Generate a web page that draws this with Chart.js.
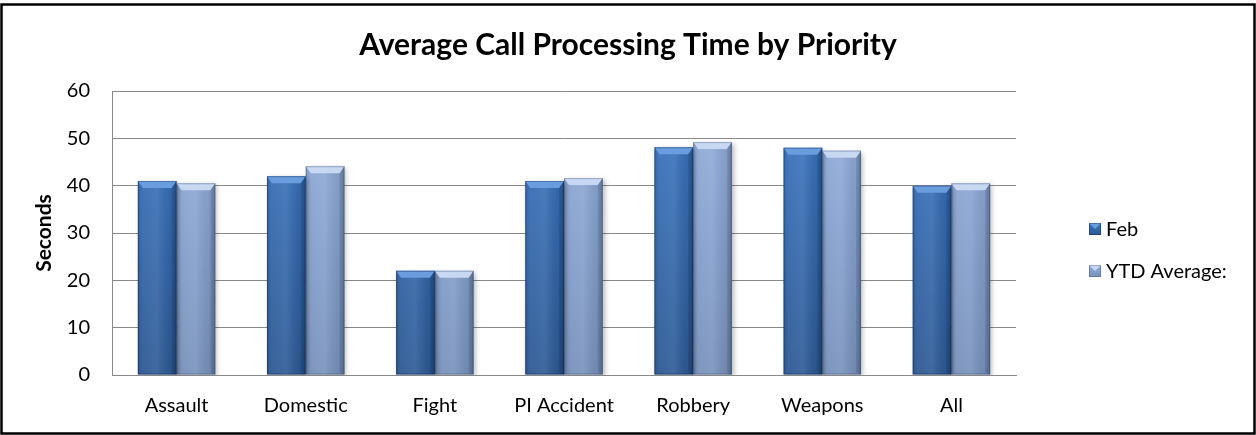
<!DOCTYPE html>
<html>
<head>
<meta charset="utf-8">
<script src="https://cdn.jsdelivr.net/npm/chart.js@4.4.1/dist/chart.umd.min.js"></script>
<style>
  html, body { margin: 0; padding: 0; background: #ffffff; }
  #wrap { width: 1256px; height: 435px; position: relative; }
</style>
</head>
<body>
<div id="wrap"><canvas id="c" width="1256" height="435"></canvas></div>
<script>
// ---- data ----
const categories = ['Assault', 'Domestic', 'Fight', 'PI Accident', 'Robbery', 'Weapons', 'All'];
const febValues = [41, 42, 22, 41, 48.1, 48, 40];
const ytdValues = [40.5, 44.1, 22, 41.6, 49.2, 47.4, 40.5];
const seriesLabels = ['Feb', 'YTD Average:'];
const yTickMin = 0;
const yTickMax = 60;
const yTickStep = 10;
const chartTitle = 'Average Call Processing Time by Priority';
const yAxisTitle = 'Seconds';

// ---- styles ----
const FONT = "Lato, 'Open Sans', sans-serif";
const styles = [
  { top: '#3a76c4', bottom: '#2b5893', bevel: '#6a9ddd', edgeDark: 'rgba(10,30,70,0.35)' },
  { top: '#93afdd', bottom: '#7690ba', bevel: '#c8d8f2', edgeDark: 'rgba(40,60,100,0.30)' }
];

function vGrad(idx) {
  return function (ctx) {
    const chart = ctx.chart;
    const ca = chart.chartArea;
    if (!ca) return styles[idx].top;
    const g = chart.ctx.createLinearGradient(0, ca.top, 0, ca.bottom);
    g.addColorStop(0, styles[idx].top);
    g.addColorStop(1, styles[idx].bottom);
    return g;
  };
}

const bevelPlugin = {
  id: 'bevel',
  beforeDatasetsDraw(chart) {
    const ctx = chart.ctx;
    ctx.save();
    ctx.shadowColor = 'rgba(0,0,0,0.28)';
    ctx.shadowBlur = 5;
    ctx.shadowOffsetX = 2;
    ctx.shadowOffsetY = 2;
  },
  afterDatasetsDraw(chart) {
    const ctx = chart.ctx;
    ctx.restore();
    chart.data.datasets.forEach((ds, di) => {
      const meta = chart.getDatasetMeta(di);
      const st = styles[di];
      meta.data.forEach((bar) => {
        const w = bar.width;
        const l = bar.x - w / 2, r = bar.x + w / 2;
        const t = bar.y, b = bar.base;
        const bev = Math.min(7, (b - t) / 4);
        const side = 5;
        ctx.save();
        const hg = ctx.createLinearGradient(l, 0, r, 0);
        hg.addColorStop(0, 'rgba(0,0,0,0.10)');
        hg.addColorStop(0.12, 'rgba(255,255,255,0.06)');
        hg.addColorStop(0.5, 'rgba(255,255,255,0.10)');
        hg.addColorStop(0.88, 'rgba(0,0,0,0.06)');
        hg.addColorStop(1, 'rgba(0,0,0,0.22)');
        ctx.fillStyle = hg;
        ctx.fillRect(l, t, w, b - t);
        ctx.beginPath();
        ctx.moveTo(l, t);
        ctx.lineTo(r, t);
        ctx.lineTo(r - side, t + bev);
        ctx.lineTo(l + side, t + bev);
        ctx.closePath();
        ctx.fillStyle = st.bevel;
        ctx.fill();
        ctx.beginPath();
        ctx.moveTo(r, t);
        ctx.lineTo(r, b);
        ctx.lineTo(r - side, b - 2);
        ctx.lineTo(r - side, t + bev);
        ctx.closePath();
        ctx.fillStyle = 'rgba(0,0,0,0.10)';
        ctx.fill();
        ctx.strokeStyle = st.edgeDark;
        ctx.lineWidth = 1;
        ctx.strokeRect(l + 0.5, t + 0.5, w - 1, b - t - 1);
        ctx.restore();
      });
    });
  }
};

const legendPlugin = {
  id: 'customLegend',
  afterDraw(chart) {
    const ctx = chart.ctx;
    const x = 1089, y0 = 229, gap = 42, sz = 12;
    ctx.save();
    ctx.font = '20px ' + FONT;
    ctx.textBaseline = 'middle';
    ctx.textAlign = 'left';
    chart.data.datasets.forEach((ds, i) => {
      const y = y0 + i * gap;
      const st = styles[i];
      const g = ctx.createLinearGradient(0, y - sz / 2, 0, y + sz / 2);
      g.addColorStop(0, st.top);
      g.addColorStop(1, st.bottom);
      ctx.fillStyle = g;
      ctx.fillRect(x, y - sz / 2, sz, sz);
      ctx.beginPath();
      ctx.moveTo(x, y - sz / 2);
      ctx.lineTo(x + sz, y - sz / 2);
      ctx.lineTo(x + sz / 2, y);
      ctx.closePath();
      ctx.fillStyle = st.bevel;
      ctx.fill();
      ctx.strokeStyle = st.edgeDark;
      ctx.strokeRect(x + 0.5, y - sz / 2 + 0.5, sz - 1, sz - 1);
      ctx.fillStyle = '#000000';
      ctx.fillText(ds.label, x + sz + 5, y + 1);
    });
    ctx.restore();
  }
};

const framePlugin = {
  id: 'frame',
  beforeDraw(chart) {
    const ctx = chart.ctx;
    ctx.save();
    ctx.fillStyle = '#ffffff';
    ctx.fillRect(0, 0, chart.width, chart.height);
    ctx.restore();
  },
  afterDraw(chart) {
    const ctx = chart.ctx;
    ctx.save();
    ctx.strokeStyle = '#000000';
    ctx.lineWidth = 2.5;
    ctx.strokeRect(1.5, 4.5, chart.width - 3, chart.height - 6);
    ctx.restore();
  }
};

new Chart(document.getElementById('c'), {
  type: 'bar',
  data: {
    labels: categories,
    datasets: [
      { label: seriesLabels[0], data: febValues, backgroundColor: vGrad(0), borderWidth: 0 },
      { label: seriesLabels[1], data: ytdValues, backgroundColor: vGrad(1), borderWidth: 0 }
    ]
  },
  options: {
    responsive: false,
    animation: false,
    devicePixelRatio: 1,
    layout: { padding: { left: 0, right: 0, top: 0, bottom: 0 } },
    datasets: { bar: { categoryPercentage: 0.6, barPercentage: 1.0 } },
    plugins: {
      legend: { display: false },
      tooltip: { enabled: false },
      title: {
        display: true,
        text: chartTitle,
        color: '#000000',
        font: { family: FONT, size: 30, weight: 'bold', lineHeight: 1.2 },
        padding: { top: 27, bottom: 28 }
      }
    },
    scales: {
      x: {
        grid: { display: false, drawTicks: false },
        border: { display: true, color: '#888888', width: 1 },
        ticks: { color: '#000000', font: { family: FONT, size: 20 }, padding: 19, maxRotation: 0 },
        afterFit(s) { s.height = 60; }
      },
      y: {
        min: yTickMin,
        max: yTickMax,
        grid: { color: '#888888', lineWidth: 1, drawTicks: false },
        border: { display: true, color: '#888888', width: 1 },
        ticks: { stepSize: yTickStep, color: '#000000', font: { family: FONT, size: 20 }, padding: 22 },
        title: {
          display: true,
          text: yAxisTitle,
          color: '#000000',
          font: { family: FONT, size: 21, weight: 'bold' },
          padding: { top: 32, bottom: 0 }
        },
        afterFit(s) { s.width = 112; }
      },
      spacer: {
        type: 'linear',
        position: 'right',
        display: true,
        grid: { display: false, drawTicks: false },
        border: { display: false },
        ticks: { display: false },
        afterFit(s) { s.width = 240; }
      }
    }
  },
  plugins: [framePlugin, bevelPlugin, legendPlugin]
});
</script>
</body>
</html>
